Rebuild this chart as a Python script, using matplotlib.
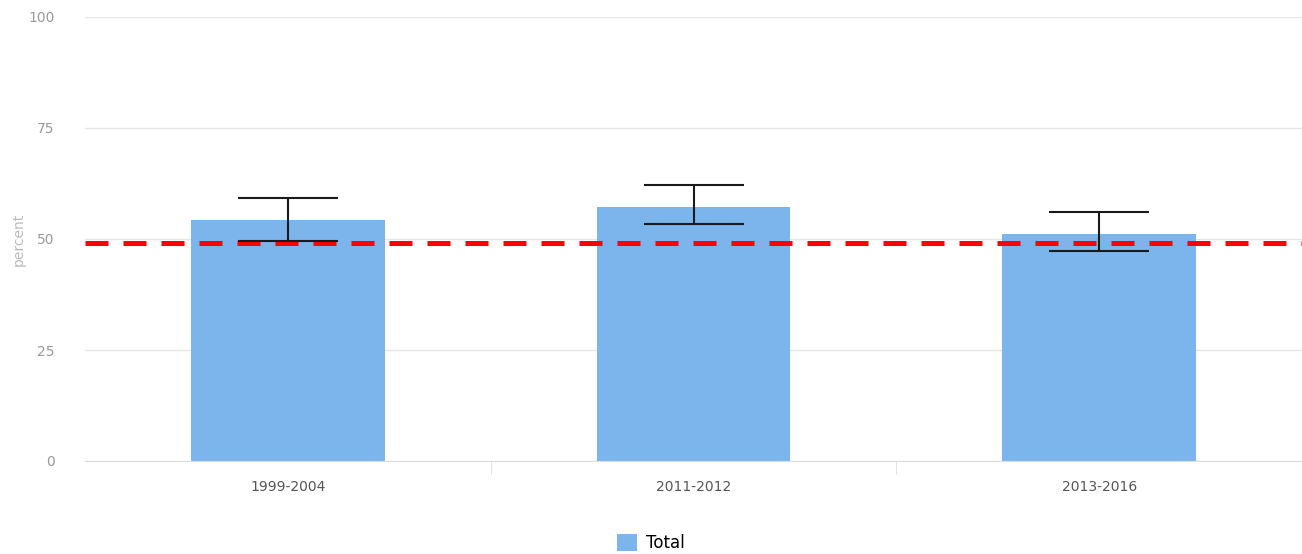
import numpy as np
import matplotlib
matplotlib.use('Agg')
import matplotlib.pyplot as plt

# data
periods = ['1999-2004', '2011-2012', '2013-2016']
total = [54.3, 57.2, 51.1]
err_low = [49.5, 53.4, 47.3]
err_high = [59.2, 62.2, 56.1]
ref_line = 49.1
y_ticks = [0, 25, 50, 75, 100]

fig = plt.figure(figsize=(13.02, 5.54), dpi=100, facecolor='white')
ax = fig.add_axes([85/1302., 93/554., 1 - 85/1302., 444/554.])

x = np.arange(len(periods))
ax.bar(x, total, width=0.478, color='#7cb5ec', zorder=2, label='Total')

# error bars
lo = np.array(total) - np.array(err_low)
hi = np.array(err_high) - np.array(total)
ax.errorbar(x, total, yerr=[lo, hi], fmt='none', ecolor='#1a1a1a',
            elinewidth=1.5, capsize=36, capthick=1.5, zorder=4)

# reference dashed line
ax.axhline(ref_line, color='#ff0000', lw=3.6, dashes=(4.6, 3.0), zorder=3)

ax.set_xlim(-0.5, len(periods) - 0.5)
ax.set_ylim(0, 100)
ax.set_yticks(y_ticks)
ax.set_yticklabels([str(v) for v in y_ticks], color='#999999', fontsize=10)
ax.set_xticks(x)
ax.set_xticklabels(periods, color='#555555', fontsize=10)
ax.tick_params(axis='x', length=0, pad=14)
ax.tick_params(axis='y', length=0, pad=22)
ax.set_xticks([0.5, 1.5], minor=True)
ax.tick_params(axis='x', which='minor', length=9, color='#dddddd')

ax.grid(axis='y', color='#e6e6e6', lw=1, zorder=0)
for s in ['top', 'right', 'left']:
    ax.spines[s].set_visible(False)
ax.spines['bottom'].set_color('#dddddd')

ax.set_ylabel('percent', color='#bbbbbb', fontsize=10, labelpad=2)

ax.legend(loc='upper center', bbox_to_anchor=(0.465, -0.13), frameon=False,
          fontsize=12, handlelength=1.2, handleheight=1.2, handletextpad=0.5)

plt.savefig('out.png', dpi=100)
